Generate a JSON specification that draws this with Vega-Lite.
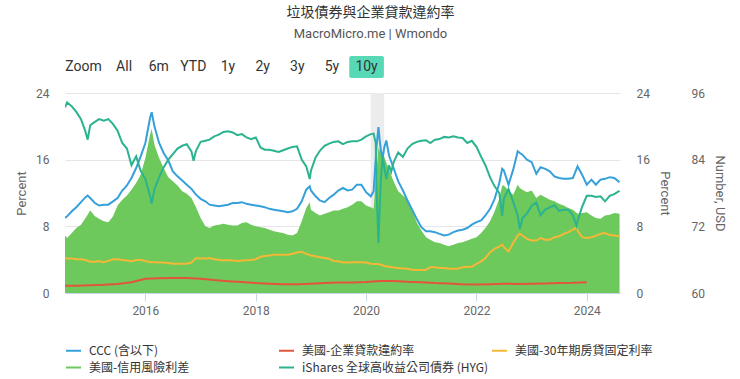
{
  "$schema": "https://vega.github.io/schema/vega-lite/v6.json",
  "background": "white",
  "padding": {"left": 15, "top": 6, "right": 5, "bottom": 5},
  "title": {
    "text": "垃圾債券與企業貸款違約率",
    "subtitle": "MacroMicro.me | Wmondo",
    "anchor": "middle",
    "font": "Noto Sans CJK TC",
    "fontSize": 14,
    "fontWeight": "normal",
    "color": "#333333",
    "subtitleFont": "Roboto",
    "subtitleFontSize": 13,
    "subtitleColor": "#555555",
    "subtitlePadding": 8,
    "offset": 15
  },
  "datasets": {
    "main": [
      {"d": "2014-07-18", "ccc": 9.0, "hyg": 93.4, "mort": 4.15, "spread": 6.9},
      {"d": "2014-08-01", "ccc": 9.2, "hyg": 94.3, "mort": 4.15, "spread": 6.6},
      {"d": "2014-09-01", "ccc": 9.8, "hyg": 93.6, "mort": 4.15, "spread": 7.2},
      {"d": "2014-10-01", "ccc": 10.3, "hyg": 92.6, "mort": 4.05, "spread": 7.8},
      {"d": "2014-11-01", "ccc": 10.9, "hyg": 91.3, "mort": 4.05, "spread": 8.2},
      {"d": "2014-12-01", "ccc": 11.5, "hyg": 89.0, "mort": 3.95, "spread": 9.0},
      {"d": "2014-12-15", "ccc": 11.7, "hyg": 87.6, "spread": 9.4},
      {"d": "2015-01-01", "ccc": 11.4, "hyg": 90.2, "mort": 3.75, "spread": 9.9},
      {"d": "2015-02-01", "ccc": 10.8, "hyg": 90.8, "mort": 3.75, "spread": 9.2},
      {"d": "2015-03-01", "ccc": 10.5, "hyg": 91.3, "mort": 3.85, "spread": 8.9},
      {"d": "2015-04-01", "ccc": 10.6, "hyg": 91.0, "mort": 3.7, "spread": 8.6},
      {"d": "2015-05-01", "ccc": 10.6, "hyg": 91.3, "mort": 3.85, "spread": 8.5},
      {"d": "2015-06-01", "ccc": 11.0, "hyg": 90.4, "mort": 4.05, "spread": 9.2},
      {"d": "2015-07-01", "ccc": 11.4, "hyg": 89.2, "mort": 4.05, "spread": 10.5},
      {"d": "2015-08-01", "ccc": 12.3, "hyg": 87.0, "mort": 3.95, "spread": 11.2},
      {"d": "2015-09-01", "ccc": 12.9, "hyg": 86.0, "mort": 3.9, "spread": 11.7},
      {"d": "2015-10-01", "ccc": 13.8, "hyg": 83.0, "mort": 3.8, "spread": 12.4},
      {"d": "2015-11-01", "ccc": 15.0, "hyg": 84.6, "mort": 3.95, "spread": 13.2},
      {"d": "2015-12-01", "ccc": 16.4, "hyg": 82.0, "mort": 3.95, "spread": 14.2},
      {"d": "2016-01-01", "ccc": 18.0, "hyg": 80.5, "mort": 3.85, "spread": 16.2},
      {"d": "2016-02-01", "ccc": 21.0, "hyg": 77.5, "mort": 3.7, "spread": 19.0},
      {"d": "2016-02-12", "ccc": 21.7, "hyg": 76.1, "spread": 19.7},
      {"d": "2016-03-01", "ccc": 20.0, "hyg": 78.7, "mort": 3.7, "spread": 17.8},
      {"d": "2016-04-01", "ccc": 18.0, "hyg": 80.8, "mort": 3.65, "spread": 16.2},
      {"d": "2016-05-01", "ccc": 16.8, "hyg": 82.6, "mort": 3.65, "spread": 15.0},
      {"d": "2016-06-01", "ccc": 15.9, "hyg": 84.0, "mort": 3.6, "spread": 13.9},
      {"d": "2016-07-01", "ccc": 14.6, "hyg": 85.0, "mort": 3.5, "spread": 13.4},
      {"d": "2016-08-01", "ccc": 14.0, "hyg": 86.0, "mort": 3.5, "spread": 12.9},
      {"d": "2016-09-01", "ccc": 13.5, "hyg": 86.5, "mort": 3.5, "spread": 12.2},
      {"d": "2016-10-01", "ccc": 13.0, "hyg": 86.8, "mort": 3.5, "spread": 11.9},
      {"d": "2016-11-01", "ccc": 12.5, "hyg": 85.5, "mort": 3.65, "spread": 11.4},
      {"d": "2016-11-15", "hyg": 83.8},
      {"d": "2016-12-01", "ccc": 11.8, "hyg": 85.6, "mort": 4.2, "spread": 10.3},
      {"d": "2017-01-01", "ccc": 11.3, "hyg": 87.2, "mort": 4.15, "spread": 9.0},
      {"d": "2017-02-01", "ccc": 11.0, "hyg": 87.4, "mort": 4.15, "spread": 8.0},
      {"d": "2017-03-01", "ccc": 10.6, "hyg": 87.6, "mort": 4.2, "spread": 7.8},
      {"d": "2017-04-01", "ccc": 10.5, "hyg": 88.2, "mort": 4.05, "spread": 8.1},
      {"d": "2017-05-01", "ccc": 10.4, "hyg": 88.5, "mort": 4.0, "spread": 8.2},
      {"d": "2017-06-01", "ccc": 10.5, "hyg": 89.0, "mort": 3.9, "spread": 8.3},
      {"d": "2017-07-01", "ccc": 10.6, "hyg": 89.1, "mort": 3.95, "spread": 8.2},
      {"d": "2017-08-01", "ccc": 10.8, "hyg": 88.9, "mort": 3.9, "spread": 8.1},
      {"d": "2017-09-01", "ccc": 10.8, "hyg": 88.4, "mort": 3.85, "spread": 8.1},
      {"d": "2017-10-01", "ccc": 10.9, "hyg": 88.6, "mort": 3.9, "spread": 8.4},
      {"d": "2017-11-01", "ccc": 10.7, "hyg": 88.0, "mort": 3.92, "spread": 8.5},
      {"d": "2017-12-01", "ccc": 10.6, "hyg": 87.7, "mort": 3.95, "spread": 8.2},
      {"d": "2018-01-01", "ccc": 10.5, "hyg": 88.0, "mort": 4.05, "spread": 8.0},
      {"d": "2018-02-01", "ccc": 10.4, "hyg": 86.2, "mort": 4.35, "spread": 7.9},
      {"d": "2018-03-01", "ccc": 10.3, "hyg": 85.8, "mort": 4.45, "spread": 7.8},
      {"d": "2018-04-01", "ccc": 10.1, "hyg": 85.8, "mort": 4.5, "spread": 7.6},
      {"d": "2018-05-01", "ccc": 10.0, "hyg": 85.6, "mort": 4.6, "spread": 7.4},
      {"d": "2018-06-01", "ccc": 9.9, "hyg": 85.4, "mort": 4.6, "spread": 7.3},
      {"d": "2018-07-01", "ccc": 9.8, "hyg": 85.7, "mort": 4.6, "spread": 7.2},
      {"d": "2018-08-01", "ccc": 9.7, "hyg": 86.0, "mort": 4.6, "spread": 7.0},
      {"d": "2018-09-01", "ccc": 9.8, "hyg": 86.3, "mort": 4.7, "spread": 6.9},
      {"d": "2018-10-01", "ccc": 10.1, "hyg": 86.4, "mort": 4.85, "spread": 7.2},
      {"d": "2018-11-01", "ccc": 11.0, "hyg": 84.0, "mort": 4.95, "spread": 8.6},
      {"d": "2018-12-01", "ccc": 12.4, "hyg": 82.8, "mort": 4.7, "spread": 10.2},
      {"d": "2018-12-24", "ccc": 12.8, "hyg": 80.5, "spread": 10.9},
      {"d": "2019-01-01", "ccc": 12.3, "hyg": 82.0, "mort": 4.5, "spread": 10.0},
      {"d": "2019-02-01", "ccc": 11.6, "hyg": 84.4, "mort": 4.4, "spread": 9.6},
      {"d": "2019-03-01", "ccc": 11.1, "hyg": 85.6, "mort": 4.3, "spread": 9.3},
      {"d": "2019-04-01", "ccc": 10.9, "hyg": 86.5, "mort": 4.2, "spread": 9.5},
      {"d": "2019-05-01", "ccc": 11.4, "hyg": 86.9, "mort": 4.1, "spread": 9.7},
      {"d": "2019-06-01", "ccc": 11.8, "hyg": 87.2, "mort": 3.85, "spread": 9.9},
      {"d": "2019-07-01", "ccc": 12.3, "hyg": 87.3, "mort": 3.8, "spread": 9.9},
      {"d": "2019-08-01", "ccc": 12.6, "hyg": 86.8, "mort": 3.65, "spread": 10.1},
      {"d": "2019-09-01", "ccc": 12.3, "hyg": 87.2, "mort": 3.65, "spread": 10.3},
      {"d": "2019-10-01", "ccc": 12.4, "hyg": 87.3, "mort": 3.7, "spread": 10.6},
      {"d": "2019-11-01", "ccc": 13.0, "hyg": 87.3, "mort": 3.7, "spread": 11.0},
      {"d": "2019-12-01", "ccc": 13.0, "hyg": 87.6, "mort": 3.7, "spread": 11.0},
      {"d": "2020-01-01", "ccc": 12.1, "hyg": 88.2, "mort": 3.65, "spread": 10.5},
      {"d": "2020-02-01", "ccc": 11.6, "hyg": 88.6, "mort": 3.5, "spread": 10.3},
      {"d": "2020-02-20", "ccc": 12.2, "hyg": 88.7, "spread": 10.1},
      {"d": "2020-03-05", "hyg": 87.0},
      {"d": "2020-03-10", "ccc": 17.5, "hyg": 79.0, "spread": 14.5},
      {"d": "2020-03-23", "ccc": 19.9, "hyg": 69.0, "spread": 17.5},
      {"d": "2020-04-01", "ccc": 18.2, "hyg": 76.0, "mort": 3.45, "spread": 17.0},
      {"d": "2020-04-09", "ccc": 17.0, "hyg": 81.0},
      {"d": "2020-04-20", "ccc": 16.2, "hyg": 84.5, "spread": 16.8},
      {"d": "2020-05-01", "ccc": 17.5, "hyg": 82.5, "mort": 3.25, "spread": 16.3},
      {"d": "2020-05-14", "ccc": 18.3, "hyg": 80.5},
      {"d": "2020-06-01", "ccc": 16.5, "hyg": 83.0, "mort": 3.15, "spread": 14.8},
      {"d": "2020-06-15", "hyg": 81.8},
      {"d": "2020-07-01", "ccc": 15.0, "hyg": 83.5, "mort": 3.05, "spread": 13.4},
      {"d": "2020-08-01", "ccc": 13.4, "hyg": 85.3, "mort": 3.0, "spread": 12.2},
      {"d": "2020-09-01", "ccc": 12.3, "hyg": 84.5, "mort": 2.95, "spread": 11.7},
      {"d": "2020-10-01", "ccc": 11.1, "hyg": 86.0, "mort": 2.9, "spread": 11.2},
      {"d": "2020-11-01", "ccc": 10.0, "hyg": 86.8, "mort": 2.8, "spread": 10.0},
      {"d": "2020-12-01", "ccc": 8.9, "hyg": 87.2, "mort": 2.75, "spread": 8.5},
      {"d": "2021-01-01", "ccc": 7.9, "hyg": 87.4, "mort": 2.75, "spread": 7.5},
      {"d": "2021-02-01", "ccc": 7.4, "hyg": 87.5, "mort": 2.8, "spread": 6.7},
      {"d": "2021-03-01", "ccc": 7.4, "hyg": 87.0, "mort": 3.1, "spread": 6.4},
      {"d": "2021-04-01", "ccc": 7.3, "hyg": 87.6, "mort": 3.1, "spread": 6.1},
      {"d": "2021-05-01", "ccc": 7.1, "hyg": 87.7, "mort": 3.0, "spread": 6.0},
      {"d": "2021-06-01", "ccc": 6.9, "hyg": 88.1, "mort": 3.0, "spread": 5.8},
      {"d": "2021-07-01", "ccc": 7.0, "hyg": 88.0, "mort": 2.9, "spread": 5.6},
      {"d": "2021-08-01", "ccc": 7.3, "hyg": 88.2, "mort": 2.9, "spread": 5.8},
      {"d": "2021-09-01", "ccc": 7.5, "hyg": 88.0, "mort": 2.95, "spread": 6.0},
      {"d": "2021-10-01", "ccc": 7.6, "hyg": 87.9, "mort": 3.1, "spread": 6.1},
      {"d": "2021-11-01", "ccc": 7.8, "hyg": 87.0, "mort": 3.15, "spread": 6.3},
      {"d": "2021-12-01", "ccc": 8.2, "hyg": 87.4, "mort": 3.15, "spread": 6.5},
      {"d": "2022-01-01", "ccc": 8.5, "hyg": 86.3, "mort": 3.5, "spread": 6.7},
      {"d": "2022-02-01", "ccc": 8.7, "hyg": 84.5, "mort": 3.8, "spread": 7.2},
      {"d": "2022-03-01", "ccc": 9.3, "hyg": 83.0, "mort": 4.2, "spread": 7.8},
      {"d": "2022-04-01", "ccc": 10.1, "hyg": 80.8, "mort": 4.9, "spread": 8.6},
      {"d": "2022-05-01", "ccc": 11.3, "hyg": 79.2, "mort": 5.3, "spread": 9.8},
      {"d": "2022-06-01", "ccc": 13.2, "hyg": 78.0, "mort": 5.6, "spread": 11.3},
      {"d": "2022-06-20", "ccc": 14.9, "hyg": 73.9, "mort": 5.8, "spread": 12.9},
      {"d": "2022-07-01", "ccc": 14.7, "hyg": 77.0, "mort": 5.5, "spread": 12.9},
      {"d": "2022-08-01", "ccc": 13.0, "hyg": 78.7, "mort": 5.0, "spread": 12.3},
      {"d": "2022-09-01", "ccc": 14.8, "hyg": 76.4, "mort": 6.0, "spread": 11.8},
      {"d": "2022-10-01", "ccc": 17.0, "hyg": 73.9, "mort": 6.9, "spread": 13.0},
      {"d": "2022-10-15", "ccc": 16.8, "hyg": 71.5, "mort": 7.1, "spread": 12.6},
      {"d": "2022-11-01", "ccc": 16.6, "hyg": 73.5, "mort": 6.9, "spread": 12.4},
      {"d": "2022-12-01", "ccc": 16.0, "hyg": 74.3, "mort": 6.5, "spread": 12.1},
      {"d": "2023-01-01", "ccc": 15.7, "hyg": 75.7, "mort": 6.3, "spread": 12.3},
      {"d": "2023-02-01", "ccc": 14.3, "hyg": 76.3, "mort": 6.3, "spread": 11.4},
      {"d": "2023-03-01", "ccc": 15.1, "hyg": 74.0, "mort": 6.6, "spread": 11.8},
      {"d": "2023-04-01", "ccc": 14.9, "hyg": 75.0, "mort": 6.4, "spread": 11.5},
      {"d": "2023-05-01", "ccc": 14.6, "hyg": 75.4, "mort": 6.4, "spread": 11.2},
      {"d": "2023-06-01", "ccc": 14.0, "hyg": 75.8, "mort": 6.7, "spread": 11.0},
      {"d": "2023-07-01", "ccc": 13.8, "hyg": 74.8, "mort": 6.8, "spread": 10.7},
      {"d": "2023-08-01", "ccc": 13.7, "hyg": 75.0, "mort": 7.1, "spread": 10.5},
      {"d": "2023-09-01", "ccc": 13.7, "hyg": 75.0, "mort": 7.3, "spread": 10.2},
      {"d": "2023-10-01", "ccc": 13.8, "hyg": 74.0, "mort": 7.6, "spread": 10.0},
      {"d": "2023-10-25", "hyg": 72.1, "mort": 7.85},
      {"d": "2023-11-01", "ccc": 15.2, "hyg": 73.0, "mort": 7.5, "spread": 9.5},
      {"d": "2023-12-01", "ccc": 14.2, "hyg": 75.5, "mort": 6.7, "spread": 9.6},
      {"d": "2024-01-01", "ccc": 13.0, "hyg": 77.5, "mort": 6.6, "spread": 9.7},
      {"d": "2024-02-01", "ccc": 13.6, "hyg": 77.5, "mort": 6.7, "spread": 9.3},
      {"d": "2024-03-01", "ccc": 13.0, "hyg": 77.3, "mort": 6.85, "spread": 9.0},
      {"d": "2024-04-01", "ccc": 13.6, "hyg": 77.4, "mort": 7.1, "spread": 8.9},
      {"d": "2024-05-01", "ccc": 13.7, "hyg": 76.5, "mort": 7.2, "spread": 9.3},
      {"d": "2024-06-01", "ccc": 13.9, "hyg": 77.5, "mort": 6.95, "spread": 9.4},
      {"d": "2024-07-01", "ccc": 13.8, "hyg": 77.8, "mort": 6.9, "spread": 9.6},
      {"d": "2024-08-05", "ccc": 13.3, "hyg": 78.4, "mort": 6.8, "spread": 9.5}
    ],
    "loan": [
      {"d": "2014-07-01", "rate": 0.88},
      {"d": "2014-10-01", "rate": 0.88},
      {"d": "2015-01-01", "rate": 0.92},
      {"d": "2015-04-01", "rate": 0.98},
      {"d": "2015-07-01", "rate": 1.08},
      {"d": "2015-10-01", "rate": 1.28},
      {"d": "2016-01-01", "rate": 1.7},
      {"d": "2016-04-01", "rate": 1.78},
      {"d": "2016-07-01", "rate": 1.8},
      {"d": "2016-10-01", "rate": 1.8},
      {"d": "2017-01-01", "rate": 1.72},
      {"d": "2017-04-01", "rate": 1.55},
      {"d": "2017-07-01", "rate": 1.42},
      {"d": "2017-10-01", "rate": 1.32},
      {"d": "2018-01-01", "rate": 1.2},
      {"d": "2018-04-01", "rate": 1.12},
      {"d": "2018-07-01", "rate": 1.06},
      {"d": "2018-10-01", "rate": 1.06},
      {"d": "2019-01-01", "rate": 1.12},
      {"d": "2019-04-01", "rate": 1.2},
      {"d": "2019-07-01", "rate": 1.26},
      {"d": "2019-10-01", "rate": 1.26},
      {"d": "2020-01-01", "rate": 1.32},
      {"d": "2020-04-01", "rate": 1.44},
      {"d": "2020-07-01", "rate": 1.45},
      {"d": "2020-10-01", "rate": 1.34},
      {"d": "2021-01-01", "rate": 1.3},
      {"d": "2021-04-01", "rate": 1.2},
      {"d": "2021-07-01", "rate": 1.14},
      {"d": "2021-10-01", "rate": 1.06},
      {"d": "2022-01-01", "rate": 1.02},
      {"d": "2022-04-01", "rate": 1.06},
      {"d": "2022-07-01", "rate": 1.12},
      {"d": "2022-10-01", "rate": 1.08},
      {"d": "2023-01-01", "rate": 1.1},
      {"d": "2023-04-01", "rate": 1.14},
      {"d": "2023-07-01", "rate": 1.2},
      {"d": "2023-10-01", "rate": 1.22},
      {"d": "2024-01-01", "rate": 1.3}
    ],
    "recession": [
      {"start": "2020-02-01", "end": "2020-04-30"}
    ],
    "buttons": [
      {"b": "Zoom"}, {"b": "All"}, {"b": "6m"}, {"b": "YTD"}, {"b": "1y"},
      {"b": "2y"}, {"b": "3y"}, {"b": "5y"}, {"b": "10y"}
    ]
  },
  "bounds": "flush",
  "spacing": 15,
  "resolve": {"scale": {"x": "independent", "y": "independent"}},
  "vconcat": [
    {
      "width": 326,
      "height": 22,
      "data": {"name": "buttons"},
      "layer": [
        {
          "transform": [{"filter": "datum.b === '10y'"}],
          "mark": {"type": "rect", "color": "#58d9b6", "cornerRadius": 2},
          "encoding": {
            "x": {"field": "b", "type": "nominal", "axis": null,
                  "scale": {"domain": ["Zoom", "All", "6m", "YTD", "1y", "2y", "3y", "5y", "10y"], "paddingInner": 0, "paddingOuter": 0.205}}
          }
        },
        {
          "transform": [{"filter": "datum.b !== 'Zoom'"}],
          "mark": {"type": "text", "font": "Roboto", "fontSize": 14, "color": "#333333"},
          "encoding": {
            "x": {"field": "b", "type": "nominal", "axis": null},
            "text": {"field": "b", "type": "nominal"}
          }
        },
        {
          "transform": [{"filter": "datum.b === 'Zoom'"}],
          "mark": {"type": "text", "font": "Roboto", "fontSize": 14, "color": "#333333", "dx": -6},
          "encoding": {
            "x": {"field": "b", "type": "nominal", "axis": null},
            "text": {"field": "b", "type": "nominal"}
          }
        }
      ]
    },
    {
      "width": 555,
      "height": 200,
      "resolve": {"scale": {"y": "independent"}},
      "layer": [
        {
          "data": {"name": "recession"},
          "mark": {"type": "rect", "color": "#ececec"},
          "encoding": {
            "x": {"field": "start", "type": "temporal",
                  "scale": {"domain": [{"year": 2014, "month": 7, "date": 18}, {"year": 2024, "month": 8, "date": 8}]}},
            "x2": {"field": "end"}
          }
        },
        {
          "data": {"name": "main"},
          "mark": {"type": "area", "opacity": 1, "clip": true, "invalid": "filter"},
          "encoding": {
            "x": {"field": "d", "type": "temporal",
                  "scale": {"domain": [{"year": 2014, "month": 7, "date": 18}, {"year": 2024, "month": 8, "date": 8}]}},
            "y": {"field": "spread", "type": "quantitative",
                  "scale": {"domain": [0, 24], "nice": false},
                  "axis": {"orient": "left", "title": "Percent", "values": [0, 8, 16, 24], "grid": true, "titlePadding": 7}},
            "color": {
              "datum": "美國-信用風險利差", "type": "nominal",
              "scale": {
                "domain": ["CCC (含以下)", "美國-企業貸款違約率", "美國-30年期房貸固定利率", "美國-信用風險利差", "iShares 全球高收益公司債券 (HYG)"],
                "range": ["#35a0d9", "#e2553b", "#f4b736", "#6dc95c", "#2bb38f"]
              },
              "legend": {
                "title": null,
                "orient": "bottom",
                "columns": 3,
                "gridAlign": "all",
                "columnPadding": 0,
                "rowPadding": 2,
                "labelFont": "Noto Sans CJK TC",
                "labelFontSize": 12,
                "labelColor": "#333333",
                "labelLimit": 300,
                "labelOffset": 7,
                "symbolType": "stroke",
                "symbolSize": 225,
                "symbolStrokeWidth": 2,
                "offset": 26
              }
            }
          }
        },
        {
          "data": {"name": "main"},
          "mark": {"type": "line", "strokeWidth": 2, "clip": true, "invalid": "filter"},
          "encoding": {
            "x": {"field": "d", "type": "temporal"},
            "y": {"field": "mort", "type": "quantitative", "scale": {"domain": [0, 24], "nice": false}, "axis": null},
            "color": {"datum": "美國-30年期房貸固定利率", "type": "nominal"}
          }
        },
        {
          "data": {"name": "loan"},
          "mark": {"type": "line", "strokeWidth": 2, "clip": true, "invalid": "filter"},
          "encoding": {
            "x": {"field": "d", "type": "temporal"},
            "y": {"field": "rate", "type": "quantitative", "scale": {"domain": [0, 24], "nice": false},
                  "axis": {"orient": "right", "title": "Percent", "values": [0, 8, 16, 24], "grid": false, "titlePadding": 8}},
            "color": {"datum": "美國-企業貸款違約率", "type": "nominal"}
          }
        },
        {
          "data": {"name": "main"},
          "mark": {"type": "line", "strokeWidth": 2, "clip": true, "invalid": "filter"},
          "encoding": {
            "x": {"field": "d", "type": "temporal"},
            "y": {"field": "ccc", "type": "quantitative", "scale": {"domain": [0, 24], "nice": false}, "axis": null},
            "color": {"datum": "CCC (含以下)", "type": "nominal"}
          }
        },
        {
          "data": {"name": "main"},
          "mark": {"type": "line", "strokeWidth": 2, "clip": true, "invalid": "filter"},
          "encoding": {
            "x": {"field": "d", "type": "temporal"},
            "y": {"field": "hyg", "type": "quantitative", "scale": {"domain": [60, 96], "nice": false},
                  "axis": {"orient": "right", "offset": 55, "title": "Number, USD", "values": [60, 72, 84, 96], "grid": false, "titlePadding": 8}},
            "color": {"datum": "iShares 全球高收益公司債券 (HYG)", "type": "nominal"}
          }
        }
      ]
    }
  ],
  "config": {
    "view": {"stroke": null},
    "font": "Roboto",
    "axis": {
      "labelColor": "#666666",
      "labelFont": "Roboto",
      "labelFontSize": 12,
      "titleColor": "#666666",
      "titleFont": "Roboto",
      "titleFontSize": 13,
      "titleFontWeight": "normal",
      "gridColor": "#e6e6e6",
      "domain": false,
      "ticks": false,
      "labelPadding": 16
    },
    "axisX": {
      "domain": true,
      "domainColor": "#ccd6eb",
      "ticks": true,
      "tickColor": "#ccd6eb",
      "tickSize": 8,
      "labelPadding": 4,
      "grid": false,
      "format": "%Y",
      "title": null,
      "tickCount": {"interval": "year", "step": 2}
    }
  }
}
